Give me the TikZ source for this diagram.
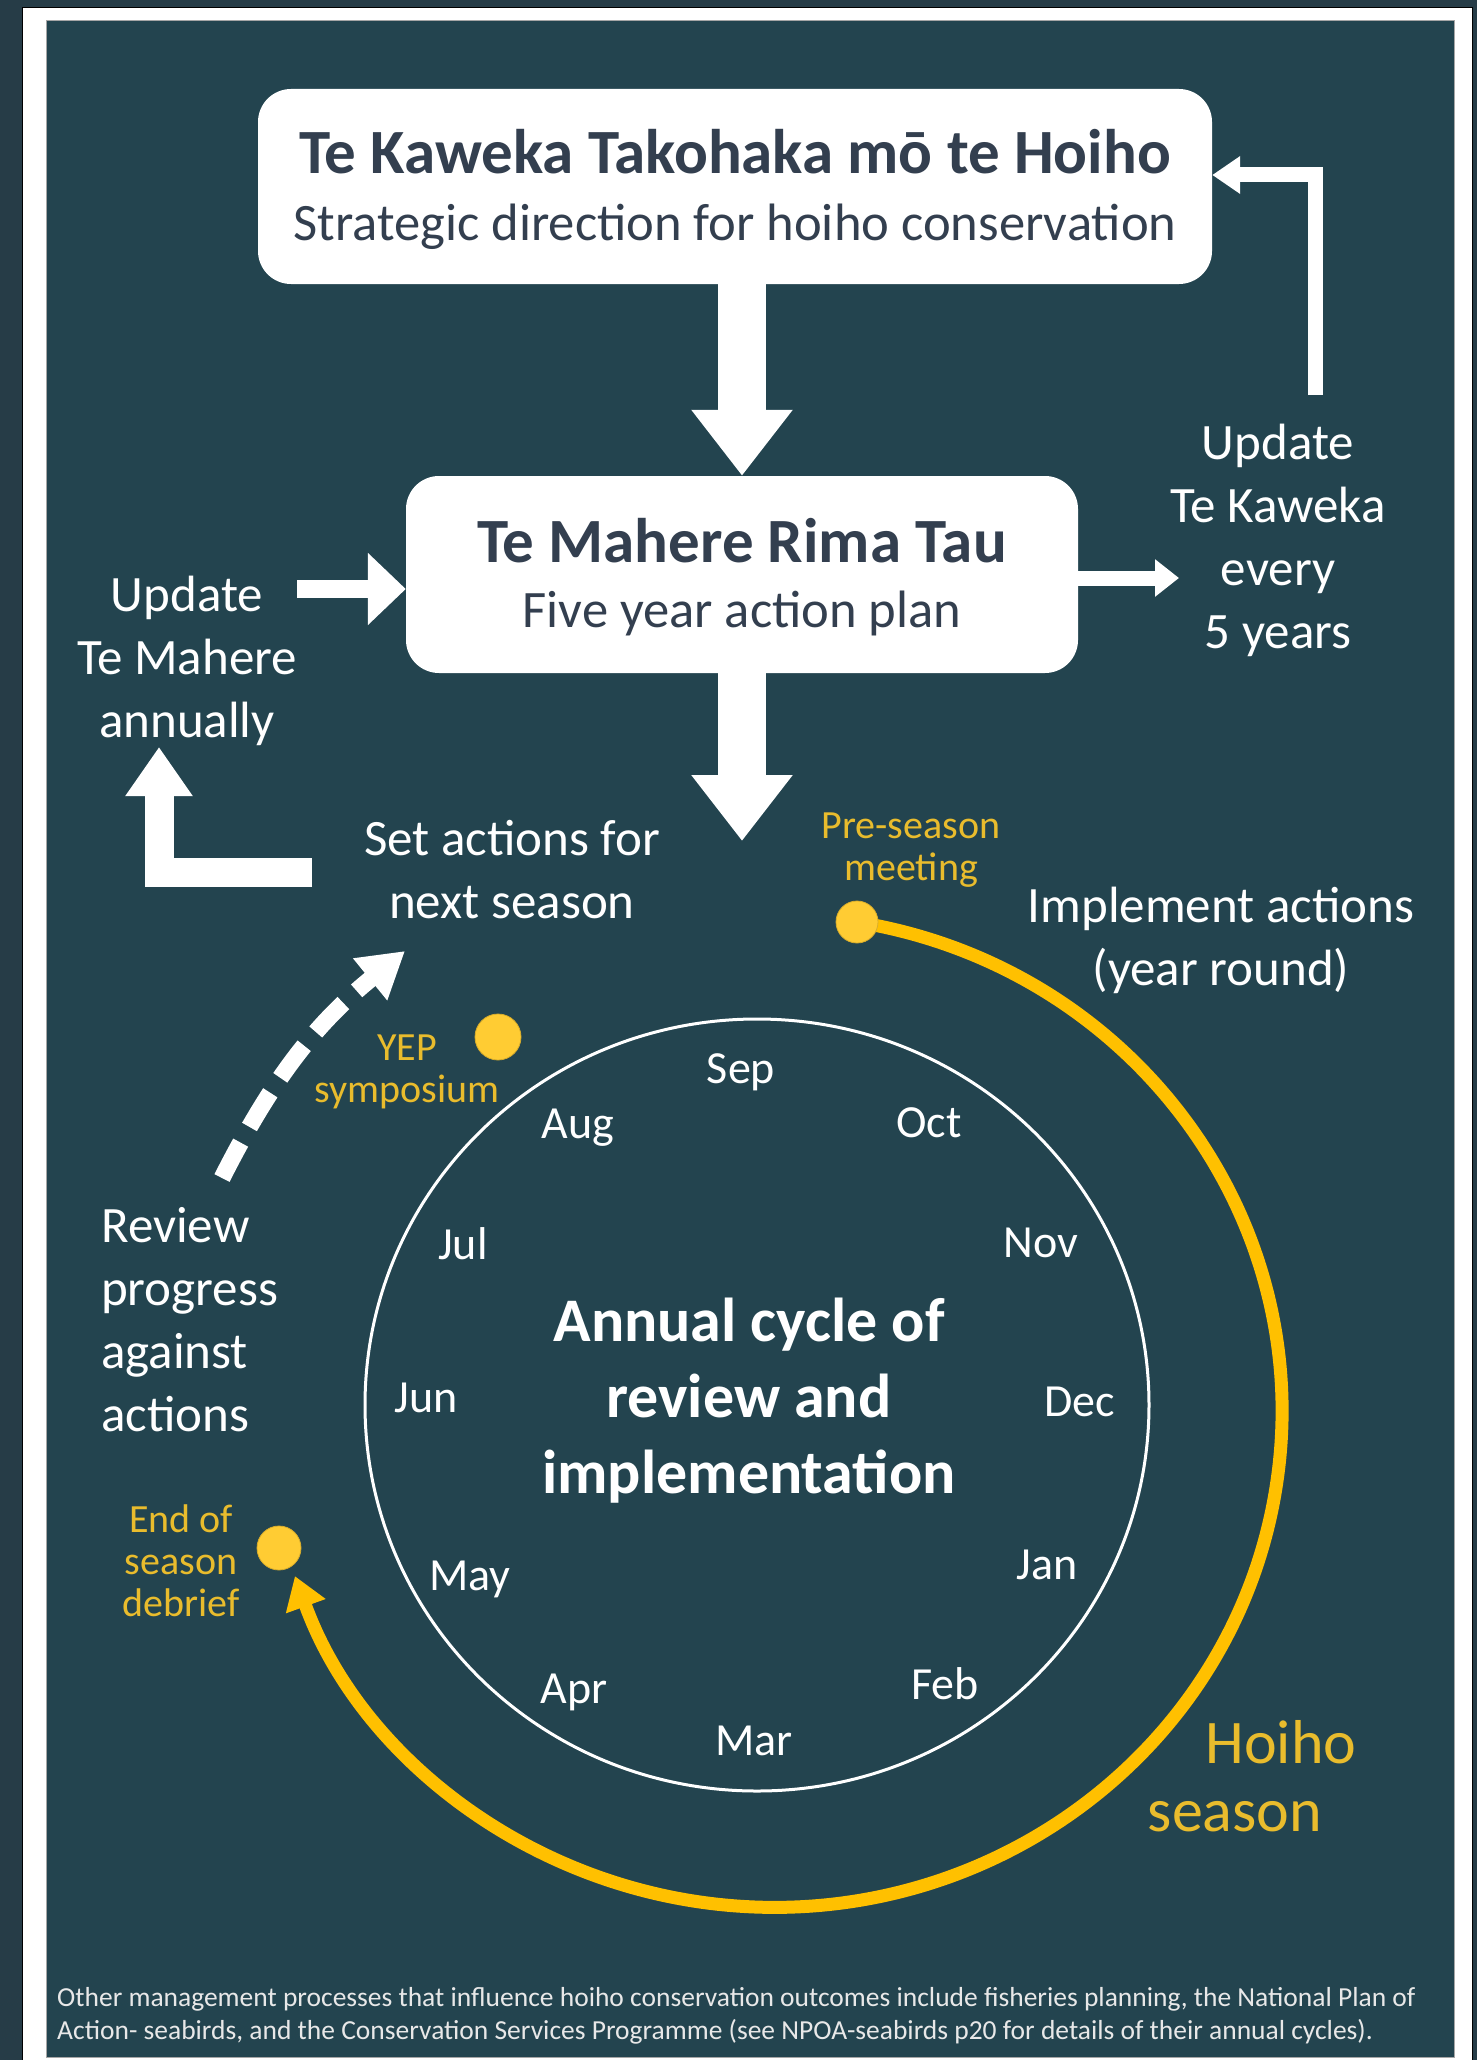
\documentclass[tikz,border=0pt]{standalone}
\usepackage{fontspec}
\setmainfont{Carlito}
\usetikzlibrary{arrows.meta, positioning, shapes.geometric}
\definecolor{outerslate}{RGB}{38,60,71}
\definecolor{panelteal}{RGB}{35,68,79}
\definecolor{boxtext}{RGB}{51,63,79}
\definecolor{seasongold}{RGB}{255,192,0}
\definecolor{dotgold}{RGB}{255,204,51}
\definecolor{labelgold}{RGB}{233,188,45}
\definecolor{notegray}{RGB}{232,232,232}
\tikzset{%
    planbox/.style={%
        fill=white, rounded corners=33pt, inner sep=0pt
    }
}
\tikzset{%
    plantitle/.style={text=boxtext, anchor=base, inner sep=0pt, font=\fontsize{63}{76}\selectfont\bfseries},
    plansub/.style={text=boxtext, anchor=base, inner sep=0pt, font=\fontsize{52.6}{63}\selectfont}
}
\tikzset{%
    wtext/.style={text=white, align=center, inner sep=0pt, font=\fontsize{51}{63}\selectfont},
    ytext/.style={text=labelgold, align=center, inner sep=0pt, font=\fontsize{40}{42}\selectfont},
    bigytext/.style={text=labelgold, inner sep=0pt, font=\fontsize{62}{75}\selectfont},
    month/.style={text=white, inner sep=0pt, font=\fontsize{46}{56}\selectfont},
    gdot/.style={circle, fill=dotgold, draw=dotgold!85!black, line width=0.8pt, inner sep=0pt, minimum size=#1},
    gdot/.default=44pt
}
\tikzset{%
    bigarrow/.style={white, line width=48pt, -{Triangle[length=66pt,width=97pt]}},
    midarrow/.style={white, line width=15pt, -{Triangle[length=24pt,width=36pt]}},
    sidearrow/.style={white, line width=18pt, -{Triangle[length=38pt,width=70pt]}},
    elbowarrow/.style={white, line width=15pt, line join=miter, -{Triangle[length=28pt,width=36pt]}},
    wideelbow/.style={white, line width=29pt, line join=miter, -{Triangle[length=49pt,width=64pt]}},
    dasharrow/.style={white, line width=17pt, dash pattern=on 40pt off 18pt, -{Triangle[length=45pt,width=51pt]}},
    seasonarc/.style={seasongold, line width=13pt, -{Triangle[length=32pt,width=40pt]}}
}

\begin{document}
\begin{tikzpicture}[x=1pt, y=-1pt]
  \useasboundingbox (0,0) rectangle (1477,2060);
  % frame and panel
  \fill[outerslate] (0,0) rectangle (1477,2060);
  \draw[fill=white, line width=1pt] (22.5,7.5) rectangle (1472.5,2070);
  \draw[fill=panelteal, draw=gray!70, line width=1pt] (46,21) rectangle (1454,2057);

  % the two plan boxes
  \node[planbox, minimum width=954pt, minimum height=195pt] (kaweka) at (735,186.5) {};
  \node[plantitle] (kawekaTitle) at ([yshift=12.5pt]kaweka.center) {Te Kaweka Takohaka mō te Hoiho};
  \node[plansub] (kawekaSub) at ([yshift=-54.5pt]kaweka.center) {Strategic direction for hoiho conservation};

  \node[planbox, minimum width=672pt, minimum height=197pt] (mahere) at (742,574.5) {};
  \node[plantitle] (mahereTitle) at ([yshift=12pt]mahere.center) {Te Mahere Rima Tau};
  \node[plansub] (mahereSub) at ([yshift=-52.5pt]mahere.center) {Five year action plan};

  % white labels
  \node[wtext] (updMahere) at (187,661) {Update\\Te Mahere\\annually};
  \node[wtext] (updKaweka) at (1278,540.5) {Update\\Te Kaweka\\every\\5 years};
  \node[wtext] (setAct) at (512,869.5) {Set actions for\\next season};
  \node[wtext] (implement) at (1221,940) {Implement actions\\(year round)};
  \node[wtext, align=left, anchor=west] (review) at (101,1319.5) {Review\\progress\\against\\actions};

  % yellow labels
  \node[ytext] (preSeason) at (911,850.5) {Pre-season\\meeting};
  \node[ytext] (yep) at (407,1072) {YEP\\symposium};
  \node[ytext] (endSeason) at (181,1561) {End of\\season\\debrief};
  \node[bigytext] (hoiho) at (1281,1742) {Hoiho};
  \node[bigytext] (season) at (1235,1817) {season};

  % annual cycle
  \node[draw=white, line width=3pt, ellipse, inner sep=0pt, minimum width=784pt, minimum height=772pt] (cycle) at (757,1405) {};
  \node[wtext, font=\fontsize{62}{76}\selectfont\bfseries] (annual) at (749,1401) {Annual cycle of\\review and\\implementation};
  \foreach \m/\x/\y in {Sep/741/1072, Oct/929/1123, Nov/1041/1243, Dec/1080/1402,
                        Jan/1047/1565, Feb/945/1684, Mar/754/1741, Apr/574/1692,
                        May/470/1579, Jun/426/1398, Jul/463/1244, Aug/578/1128}
    \node[month] (m-\m) at (\x,\y) {\m};

  % block arrows
  \coordinate (cycleIn) at (742,841);
  \coordinate (kawekaNote) at (1179,578);
  \coordinate (kawekaUp) at (1315,395);
  \coordinate (setOut) at (312,872);
  \coordinate (mahereUp) at (159,747);
  \draw[bigarrow] (kaweka.south -| mahere.north) -- (mahere.north);
  \draw[bigarrow] (mahere.south) -- (cycleIn);
  \draw[midarrow] (mahere.east |- kawekaNote) -- (kawekaNote);
  \draw[sidearrow] ([yshift=72pt]updMahere.east) -- ([yshift=72pt]updMahere.east -| mahere.west);
  \draw[elbowarrow] (kawekaUp) |- ([yshift=11.5pt]kaweka.east);
  \draw[wideelbow] (setOut) -| (mahereUp);

  % review to next season
  \coordinate (revOut) at (222,1178);
  \coordinate (setIn) at (405,951);
  \draw[dasharrow] (revOut) to[bend left=12] (setIn);

  % hoiho season
  \coordinate (preDotC) at (857,922);
  \draw[seasonarc] (preDotC) arc[start angle=80.6, end angle=-160.6, x radius=508pt, y radius=496pt];
  \node[gdot=42pt] (preDot) at (preDotC) {};
  \node[gdot=46pt] (yepDot) at (498,1037) {};
  \node[gdot] (endDot) at (279,1548) {};

  % note
  \node[text=notegray, align=left, anchor=west, inner sep=0pt, font=\fontsize{27.5}{33}\selectfont] (note) at (57,2015.5)
    {Other management processes that influence hoiho conservation outcomes include fisheries planning, the National Plan of\\
     Action- seabirds, and the Conservation Services Programme (see NPOA-seabirds p20 for details of their annual cycles).};
\end{tikzpicture}
\end{document}
